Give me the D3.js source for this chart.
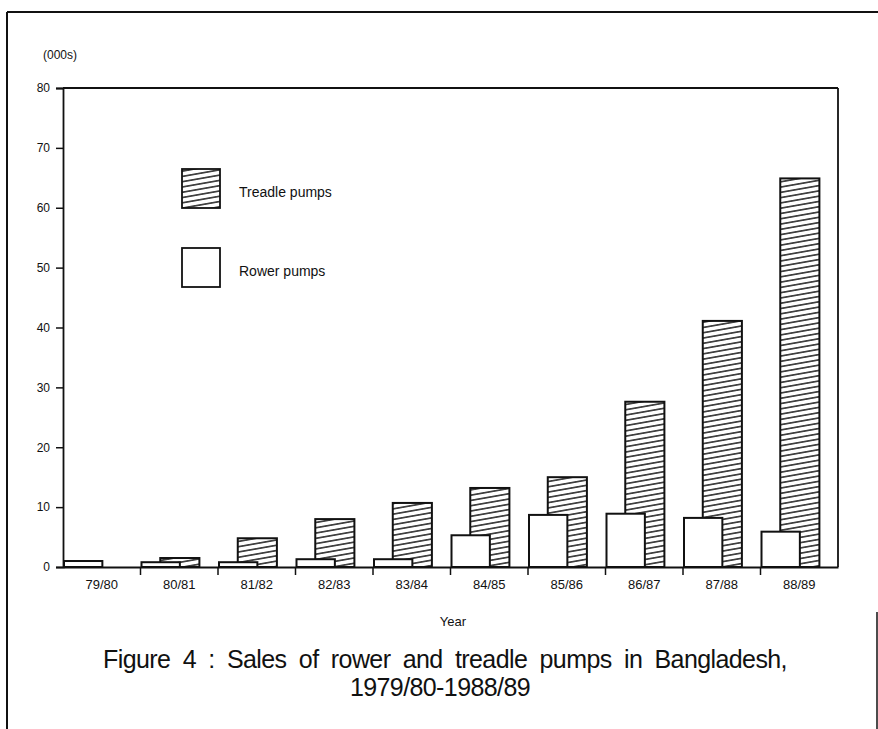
<!DOCTYPE html>
<html><head><meta charset="utf-8">
<script src="https://cdn.jsdelivr.net/npm/d3@7"></script>
<style>
html,body{margin:0;padding:0;background:#fff;}
svg{display:block;}
text{font-family:"Liberation Sans",Arial,sans-serif;fill:#111;}
</style></head>
<body>
<svg id="chart" width="878" height="729"></svg>
<script>
const categories = ["79/80","80/81","81/82","82/83","83/84","84/85","85/86","86/87","87/88","88/89"];
const rowerPumps = [1.0, 0.8, 0.8, 1.3, 1.3, 5.3, 8.7, 8.9, 8.2, 5.9];
const treadlePumps = [0, 1.5, 4.8, 8.0, 10.7, 13.2, 15.0, 27.6, 41.1, 64.9];
const yTicks = [0,10,20,30,40,50,60,70,80];
const seriesNames = ["Treadle pumps","Rower pumps"];
const unitLabel = "(000s)";
const xTitle = "Year";
const captionLines = ["Figure 4 : Sales of rower and treadle pumps in Bangladesh,","1979/80-1988/89"];

const svg = d3.select("#chart");
const pLeft = 63, pRight = 838, pTop = 88, pBottom = 567;
const FONT = '"Liberation Sans",Arial,sans-serif';

const x = d3.scaleBand().domain(categories).range([pLeft, pRight]).paddingInner(0).paddingOuter(0);
const y = d3.scaleLinear().domain([0, 80]).range([pBottom, pTop]);

// hatch pattern
const defs = svg.append("defs");
const pat = defs.append("pattern").attr("id","hatch").attr("patternUnits","userSpaceOnUse")
  .attr("width", 20).attr("height", 5.2).attr("patternTransform","rotate(-10)");
pat.append("rect").attr("width",20).attr("height",5.2).attr("fill","#fff");
pat.append("line").attr("x1",0).attr("x2",20).attr("y1",2.6).attr("y2",2.6)
  .attr("stroke","#111").attr("stroke-width",1.4);

// outer frame
svg.append("line").attr("x1",7).attr("x2",878).attr("y1",12).attr("y2",12).attr("stroke","#111").attr("stroke-width",2);
svg.append("line").attr("x1",7).attr("x2",7).attr("y1",12).attr("y2",729).attr("stroke","#111").attr("stroke-width",2);
svg.append("line").attr("x1",877).attr("x2",877).attr("y1",612).attr("y2",729).attr("stroke","#111").attr("stroke-width",1.5);

// plot frame top and right
svg.append("line").attr("x1",pLeft).attr("x2",pRight).attr("y1",y(80)).attr("y2",y(80)).attr("stroke","#111").attr("stroke-width",1.8);
svg.append("line").attr("x1",pRight).attr("x2",pRight).attr("y1",y(80)).attr("y2",y(0)).attr("stroke","#111").attr("stroke-width",1.8);

const bw = x.bandwidth();
// treadle bars (behind)
svg.append("g").selectAll("rect").data(categories).join("rect")
  .attr("x", d => x(d) + bw*0.255)
  .attr("width", bw*0.505)
  .attr("y", (d,i) => y(treadlePumps[i]))
  .attr("height", (d,i) => y(0) - y(treadlePumps[i]))
  .attr("fill","url(#hatch)")
  .attr("stroke", (d,i) => treadlePumps[i] > 0 ? "#111" : "none")
  .attr("stroke-width",2);
// rower bars (front)
svg.append("g").selectAll("rect").data(categories).join("rect")
  .attr("x", d => x(d) + 1)
  .attr("width", bw*0.495)
  .attr("y", (d,i) => y(rowerPumps[i]))
  .attr("height", (d,i) => y(0) - y(rowerPumps[i]))
  .attr("fill","#fff")
  .attr("stroke","#111")
  .attr("stroke-width",2);

// y axis
const yAxis = d3.axisLeft(y).tickValues(yTicks).tickSize(7).tickPadding(6).tickFormat(d3.format("d"));
const gy = svg.append("g").attr("transform",`translate(${pLeft},0)`).call(yAxis);
gy.select(".domain").attr("stroke","#111").attr("stroke-width",1.8);
gy.selectAll(".tick line").attr("stroke","#111").attr("stroke-width",1.5);
gy.selectAll(".tick text").attr("font-size",12).style("font-family",FONT).attr("fill","#111");

// x axis
const xAxis = d3.axisBottom(x).tickSize(0).tickPadding(13);
const gx = svg.append("g").attr("transform",`translate(0,${pBottom})`).call(xAxis);
gx.select(".domain").attr("stroke","#111").attr("stroke-width",1.8);
gx.selectAll(".tick text").attr("font-size",13).style("font-family",FONT).attr("fill","#111");
// separator ticks at band boundaries
svg.append("g").selectAll("line").data(categories.slice(1)).join("line")
  .attr("x1", d => x(d)).attr("x2", d => x(d))
  .attr("y1", pBottom).attr("y2", pBottom + 8)
  .attr("stroke","#111").attr("stroke-width",1.5);

// unit label
svg.append("text").attr("x",43).attr("y",59).attr("font-size",12).text(unitLabel);

// legend
const legend = [{name: seriesNames[0], fill:"url(#hatch)", y:169},{name: seriesNames[1], fill:"#fff", y:248}];
const lg = svg.append("g");
lg.selectAll("rect").data(legend).join("rect")
  .attr("x",182).attr("y",d=>d.y).attr("width",38).attr("height",39)
  .attr("fill",d=>d.fill).attr("stroke","#111").attr("stroke-width",1.8);
lg.selectAll("text").data(legend).join("text")
  .attr("x",239).attr("y",d=>d.y+28).attr("font-size",14).text(d=>d.name);

// x title
svg.append("text").attr("x",453).attr("y",626).attr("text-anchor","middle").attr("font-size",13).text(xTitle);

// caption
svg.append("g").selectAll("text").data(captionLines).join("text")
  .attr("x",(d,i)=> i===0 ? 445 : 440).attr("y",(d,i)=>668+i*28).attr("text-anchor","middle")
  .attr("font-size",25).attr("word-spacing",6).attr("letter-spacing",-0.6)
  .style("font-family",FONT)
  .text(d=>d);
</script>
</body></html>
